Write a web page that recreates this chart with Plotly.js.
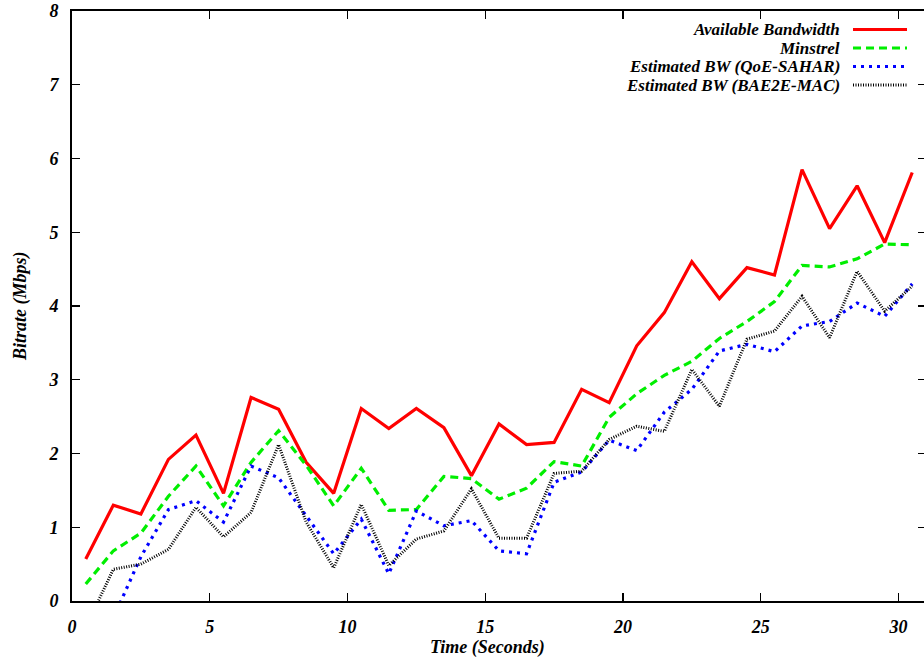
<!DOCTYPE html>
<html>
<head>
<meta charset="utf-8">
<script src="https://cdn.plot.ly/plotly-3.0.1.min.js"></script>
<style>
html,body{margin:0;padding:0;background:#fff;overflow:hidden;width:924px;height:662px;}
#chart{width:930px;height:662px;}
</style>
</head>
<body>
<div id="chart"></div>
<script>
var time = [0.5,1.5,2.5,3.5,4.5,5.5,6.5,7.5,8.5,9.5,10.5,11.5,12.5,13.5,14.5,15.5,16.5,17.5,18.5,19.5,20.5,21.5,22.5,23.5,24.5,25.5,26.5,27.5,28.5,29.5,30.5];
var availableBW = [0.57,1.30,1.18,1.92,2.25,1.46,2.76,2.60,1.88,1.46,2.61,2.34,2.61,2.35,1.70,2.40,2.12,2.15,2.87,2.69,3.46,3.91,4.60,4.10,4.52,4.42,5.85,5.05,5.63,4.86,5.81];
var minstrel = [0.23,0.68,0.92,1.42,1.83,1.29,1.88,2.31,1.84,1.29,1.80,1.23,1.24,1.69,1.66,1.38,1.53,1.89,1.83,2.49,2.81,3.06,3.25,3.56,3.79,4.06,4.55,4.53,4.64,4.84,4.83];
var qoeSahar = [null,-0.23,0.60,1.24,1.36,1.07,1.83,1.67,1.15,0.64,1.11,0.37,1.22,1.02,1.09,0.68,0.64,1.61,1.75,2.18,2.04,2.56,2.87,3.39,3.48,3.38,3.73,3.79,4.04,3.86,4.30];
var bae2eMac = [-0.36,0.43,0.50,0.70,1.27,0.87,1.20,2.12,1.07,0.45,1.31,0.48,0.84,0.95,1.52,0.85,0.85,1.73,1.76,2.19,2.37,2.30,3.14,2.64,3.55,3.66,4.13,3.57,4.47,3.93,4.27];
var seriesNames = ['Available Bandwidth','Minstrel','Estimated BW (QoE-SAHAR)','Estimated BW (BAE2E-MAC)'];
var xTicks = [0,5,10,15,20,25,30];
var yTicks = [0,1,2,3,4,5,6,7,8];

var styles = [
  {color:'#ff0000', dash:'solid', width:3.2},
  {color:'#00ee00', dash:'8px,5px', width:3.2},
  {color:'#0000ff', dash:'3px,5px', width:3.2},
  {color:'#000000', dash:'1px,1.5px', width:3}
];
var seriesData = [availableBW, minstrel, qoeSahar, bae2eMac];

var fnt = {family:'Liberation Serif, Times New Roman, serif', size:18, color:'#000', weight:'bold', style:'italic'};
var legFnt = {family:'Liberation Serif, Times New Roman, serif', size:17, color:'#000', weight:'bold', style:'italic'};

var traces = seriesData.map(function(d,i){
  return {x:time, y:d, type:'scatter', mode:'lines', name:seriesNames[i],
    line:{color:styles[i].color, dash:styles[i].dash, width:styles[i].width}, showlegend:false, connectgaps:false};
});

var annotations = [], shapes = [];
var rowY = [29.5,48,66.5,85];
seriesNames.forEach(function(n,i){
  annotations.push({xref:'paper', yref:'paper', x:(841-72)/854, y:1-(rowY[i]-11)/590, xanchor:'right', yanchor:'middle',
    text:n, showarrow:false, font:legFnt, borderpad:0});
  shapes.push({type:'line', xref:'paper', yref:'paper', x0:(853-72)/854, x1:(907-72)/854,
    y0:1-(rowY[i]-11)/590, y1:1-(rowY[i]-11)/590,
    line:{color:styles[i].color, dash:styles[i].dash, width:styles[i].width}});
});
annotations.push({xref:'paper', yref:'paper', x:(487-72)/854, y:1-(647-11)/590, xanchor:'center', yanchor:'middle',
  text:'Time (Seconds)', showarrow:false, font:fnt});
annotations.push({xref:'paper', yref:'paper', x:(20-72)/854, y:1-(306-11)/590, xanchor:'center', yanchor:'middle',
  text:'Bitrate (Mbps)', textangle:-90, showarrow:false, font:fnt});

var layout = {
  width:930, height:662,
  margin:{l:72, r:4, t:11, b:61},
  paper_bgcolor:'#fff', plot_bgcolor:'#fff',
  xaxis:{range:[0,31], tickvals:xTicks, ticktext:xTicks.map(String), ticks:'inside', ticklen:8, tickwidth:1.2, tickcolor:'#000',
    showline:true, linecolor:'#000', linewidth:2, mirror:'ticks', showgrid:false, zeroline:false, tickfont:fnt, ticklabelstandoff:8},
  yaxis:{range:[0,8], tickvals:yTicks, ticktext:yTicks.map(String), ticks:'inside', ticklen:8, tickwidth:1.2, tickcolor:'#000',
    showline:true, linecolor:'#000', linewidth:2, mirror:'ticks', showgrid:false, zeroline:false, tickfont:fnt, ticklabelstandoff:8},
  annotations:annotations, shapes:shapes
};
Plotly.newPlot('chart', traces, layout, {displayModeBar:false, staticPlot:true});
</script>
</body>
</html>
